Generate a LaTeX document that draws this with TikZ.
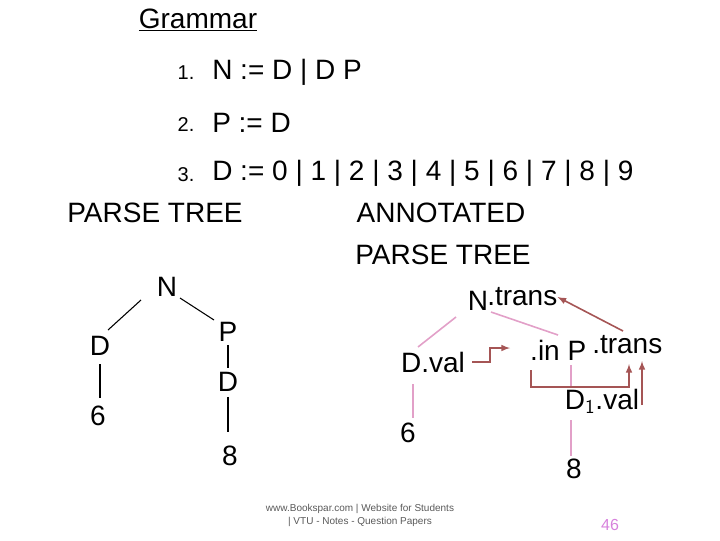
\documentclass[tikz,border=0pt]{standalone}
\usepackage{fontspec}
\setmainfont{Liberation Sans}
\usetikzlibrary{arrows}
\definecolor{pinkline}{RGB}{226,160,200}
\definecolor{brownline}{RGB}{165,85,85}
\definecolor{pagenum}{RGB}{215,130,220}
\tikzset{
  big/.style={font=\fontsize{21}{24}\selectfont, inner sep=0pt},
  small/.style={font=\fontsize{15}{17}\selectfont, inner sep=0pt},
  tiny/.style={font=\fontsize{7.5}{9}\selectfont, text=gray!70!black, inner sep=0pt},
  edge/.style={black, line width=0.8pt},
  pedge/.style={pinkline, line width=1.2pt},
  flow/.style={brownline, line width=1.2pt, -latex}
}
\begin{document}
\begin{tikzpicture}[x=0.75pt,y=-0.75pt]
\useasboundingbox (0,0) rectangle (720,540);

%grammar
\node[big] (gram) at (198,20) {\underline{Grammar}};
\node[small] (n1) at (186,73) {1.};
\node[big, anchor=west] (r1) at (212,72) {N := D | D P};
\node[small] (n2) at (186,125) {2.};
\node[big, anchor=west] (r2) at (212,123) {P := D};
\node[small] (n3) at (186,175) {3.};
\node[big, anchor=west] (r3) at (212,173) {D := 0 | 1 | 2 | 3 | 4 | 5 | 6 | 7 | 8 | 9};

%headings
\node[big] (pt) at (155,213) {PARSE TREE};
\node[big] (at1) at (441,213) {ANNOTATED};
\node[big] (at2) at (443,255) {PARSE TREE};

%parse tree
\node[big] (N) at (167,287) {N};
\node[big] (D) at (100,346) {D};
\node[big] (P) at (228,332) {P};
\node[big] (PD) at (228,382) {D};
\node[big] (six) at (98,416) {6};
\node[big] (eight) at (230,456) {8};
\draw[edge] (141,300) -- (108,330);
\draw[edge] (180,298) -- (214,320);
\draw[edge] (D) ++(0,18) -- (100,398);
\draw[edge] (P.south) ++(0,3) -- (228,368);
\draw[edge] (PD.south) ++(0,5) -- (228,432);

%annotated tree
\node[big] (aN) at (478,301) {N};
\node[big, anchor=west] (aNt) at (487,297) {.trans};
\node[big] (aD) at (433,362) {D.val};
\node[big] (ain) at (545,350) {.in};
\node[big] (aP) at (577,351) {P};
\node[big, anchor=west] (aPt) at (592,345) {.trans};
\node[big] (aD1) at (602,401) {D$_{\mathsf 1}$.val};
\node[big] (asix) at (408,433) {6};
\node[big] (aeight) at (574,469) {8};
\draw[pedge] (456,317) -- (418,347);
\draw[pedge] (491,312) -- (558,335);
\draw[pedge] (413,384) -- (413,418);
\draw[pedge] (571,365) -- (571,388);
\draw[pedge] (571,420) -- (571,456);

\coordinate (c1) at (490,362);
\coordinate (c2) at (490,348);
\coordinate (c3) at (531,387);
\coordinate (c4) at (629,387);
\coordinate (c5) at (642,405);
\draw[flow] (472,362) -- (c1) -- (c2) -- (510,348);
\draw[flow] (531,370) -- (c3) -- (c4) -- (629,364);
\draw[flow] (c5) -- (642,361);
\draw[flow] (623,331) -- (aNt.east);

%footer
\node[tiny] (web1) at (360,509) {www.Bookspar.com | Website for Students};
\node[tiny] (web2) at (360,522) {| VTU - Notes - Question Papers};
\node[font=\fontsize{12}{14}\selectfont, text=pagenum] (page) at (610,525) {46};
\end{tikzpicture}
\end{document}
